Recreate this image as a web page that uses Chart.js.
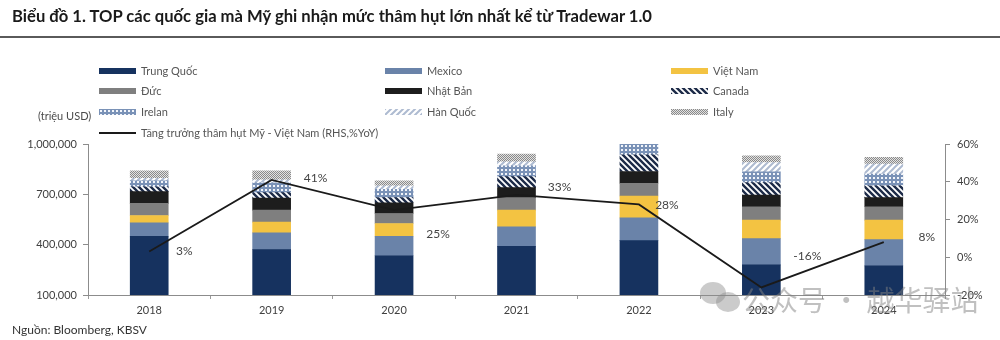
<!DOCTYPE html>
<html><head><meta charset="utf-8">
<script src="https://cdn.jsdelivr.net/npm/chart.js@4"></script>
<style>
html,body{margin:0;padding:0;background:#fff;width:1000px;height:340px;overflow:hidden;}
#wrap{position:relative;width:1000px;height:340px;font-family:Lato,'Open Sans',sans-serif;}
#c{position:absolute;left:0;top:0;}
#title{position:absolute;left:12px;top:6px;font-weight:700;font-size:17px;line-height:20px;color:#1a1a1a;white-space:nowrap;transform-origin:0 0;}
#rule{position:absolute;left:0;top:36px;width:1000px;height:2px;background:#5a5a5a;}
#unit{position:absolute;left:38px;top:109px;font-size:11px;color:#4a4a4a;}
#source{position:absolute;left:12px;top:322px;font-size:12px;color:#333;white-space:nowrap;}
.lg{position:absolute;height:14px;white-space:nowrap;font-size:11px;color:#555;line-height:14px;}
.sw{position:absolute;left:0;width:37px;height:6px;top:4px;}
.lt{position:absolute;left:42px;top:0;}
#wm{position:absolute;left:742px;top:279px;font-family:'Noto Sans CJK SC';font-size:28px;color:rgba(130,130,130,0.5);white-space:nowrap;pointer-events:none;}
.wc{position:absolute;border-radius:50%;background:rgba(140,140,140,0.45);}
</style>
</head><body>
<div id="wrap">
<canvas id="c" width="1000" height="340"></canvas>
<div id="title">Biểu đồ 1. TOP các quốc gia mà Mỹ ghi nhận mức thâm hụt lớn nhất kể từ Tradewar 1.0</div>
<div id="rule"></div>
<div id="unit">(triệu USD)</div>
<div id="legend"></div>
<div id="source">Nguồn: Bloomberg, KBSV</div>
<div class="wc" style="left:700px;top:282px;width:26px;height:22px;"></div>
<div class="wc" style="left:716px;top:292px;width:24px;height:20px;"></div>
<div id="wm">公众号 · 越华驿站</div>
</div>
<script>
// ---- data ----
const categories = ['2018','2019','2020','2021','2022','2023','2024'];
const trungQuoc = [450000,370000,334000,390000,424000,280000,274000];
const mexico    = [80000,100000,116000,116000,136000,156000,156000];
const vietNam   = [44000,64000,76000,100000,130000,110000,116000];
const duc       = [72000,72000,60000,74000,76000,80000,80000];
const nhatBan   = [70000,72000,64000,60000,70000,70000,54000];
const canada    = [28000,32000,30000,66000,100000,74000,70000];
const irelan    = [36000,58000,50000,64000,70000,64000,70000];
const hanQuoc   = [16000,18000,20000,24000,40000,56000,60000];
const italy     = [44000,54000,30000,46000,40000,40000,40000];
const yoyVN     = [3,41,25,33,28,-16,8];
const leftTicks = [100000,400000,700000,1000000];
const rightTicks = [-20,0,20,40,60];

// ---- patterns ----
function tile(w,h,draw){const c=document.createElement('canvas');c.width=w;c.height=h;const g=c.getContext('2d');draw(g,w,h);return c;}
const ctx0=document.getElementById('c').getContext('2d');
const canadaTile=tile(6,6,g=>{g.fillStyle='#fff';g.fillRect(0,0,6,6);g.strokeStyle='#1d2b48';g.lineWidth=2.4;g.beginPath();
  g.moveTo(-3,-3);g.lineTo(9,9);g.moveTo(-3,3);g.lineTo(3,9);g.moveTo(3,-3);g.lineTo(9,3);g.stroke();});
const hanTile=tile(6,6,g=>{g.fillStyle='#fff';g.fillRect(0,0,6,6);g.strokeStyle='#aebbd1';g.lineWidth=2;g.beginPath();
  g.moveTo(-3,9);g.lineTo(9,-3);g.moveTo(-3,3);g.lineTo(3,-3);g.moveTo(3,9);g.lineTo(9,3);g.stroke();});
const irelanTile=tile(4,4,g=>{g.fillStyle='#7a92b7';g.fillRect(0,0,4,4);g.fillStyle='#f2f5fa';g.fillRect(1,1,2,2);});
const italyTile=tile(2,2,g=>{g.fillStyle='#e2e2e2';g.fillRect(0,0,2,2);g.fillStyle='#8a8a8a';g.fillRect(0,0,1,1);g.fillRect(1,1,1,1);});
const pat=t=>ctx0.createPattern(t,'repeat');

const barSeries=[
  {label:'Trung Quốc',data:trungQuoc,fill:'#16325f'},
  {label:'Mexico',data:mexico,fill:'#6a83a9'},
  {label:'Việt Nam',data:vietNam,fill:'#f3c342'},
  {label:'Đức',data:duc,fill:'#7f7f7f'},
  {label:'Nhật Bản',data:nhatBan,fill:'#1d1d1d'},
  {label:'Canada',data:canada,tile:canadaTile},
  {label:'Irelan',data:irelan,tile:irelanTile},
  {label:'Hàn Quốc',data:hanQuoc,tile:hanTile},
  {label:'Italy',data:italy,tile:italyTile}
];
const lineLabel='Tăng trưởng thâm hụt Mỹ - Việt Nam (RHS,%YoY)';

const datasets=barSeries.map(s=>({type:'bar',label:s.label,data:s.data,backgroundColor:s.tile?pat(s.tile):s.fill,
  borderWidth:0,order:1,yAxisID:'y',barThickness:38}));
datasets.push({type:'line',label:lineLabel,data:yoyVN,yAxisID:'y1',borderColor:'#1a1a1a',borderWidth:1.8,
  pointRadius:0,tension:0,fill:false,order:0});

const labelOffsets=[[35,0],[44,-2],[44,24],[43,-8],[28,1],[46,-31],[43,-5]];
const lineIdx=datasets.length-1;
const labelPlugin={id:'yoyLabels',afterDatasetsDraw(chart){
  const meta=chart.getDatasetMeta(lineIdx);const c=chart.ctx;c.save();
  c.font='12px Lato';c.fillStyle='#444';c.textAlign='center';c.textBaseline='middle';
  meta.data.forEach((p,i)=>{c.fillText(yoyVN[i]+'%',p.x+labelOffsets[i][0],p.y+labelOffsets[i][1]);});
  c.restore();}};

const tickFont={family:'Lato',size:11};
const chart=new Chart(document.getElementById('c'),{
  data:{labels:categories,datasets},
  options:{responsive:false,animation:false,devicePixelRatio:1,
    layout:{padding:{top:144,bottom:18,left:0,right:0}},
    plugins:{legend:{display:false},tooltip:{enabled:false}},
    scales:{
      x:{stacked:true,offset:true,grid:{drawOnChartArea:false,tickLength:4,color:'#9a9a9a',offset:true},
         border:{color:'#8c8c8c',width:1},ticks:{font:tickFont,color:'#404040',padding:5},
         afterFit(s){s.height=27;}},
      y:{stacked:true,position:'left',min:100000,max:1000000,
         afterBuildTicks(s){s.ticks=leftTicks.map(v=>({value:v}));},
         ticks:{font:tickFont,color:'#404040',padding:6,callback:v=>v.toLocaleString('en-US')},
         grid:{drawOnChartArea:false,tickLength:5,color:'#8c8c8c'},border:{color:'#8c8c8c',width:1},
         afterFit(s){s.width=88;}},
      y1:{position:'right',min:-20,max:60,
         afterBuildTicks(s){s.ticks=rightTicks.map(v=>({value:v}));},
         ticks:{font:tickFont,color:'#404040',padding:7,callback:v=>v+'%'},
         grid:{drawOnChartArea:false,tickLength:5,color:'#8c8c8c'},border:{color:'#8c8c8c',width:1},
         afterFit(s){s.width=55;}}
    }},
  plugins:[labelPlugin]
});

// ---- legend ----
const cols=[99,385,671], rows=[64,84,105,126];
const lg=document.getElementById('legend');
function addItem(i,label,swStyle){
  const d=document.createElement('div');d.className='lg';
  d.style.left=cols[i%3]+'px';d.style.top=rows[Math.floor(i/3)]+'px';
  const sw=document.createElement('div');sw.className='sw';Object.assign(sw.style,swStyle);
  const t=document.createElement('div');t.className='lt';t.textContent=label;
  d.appendChild(sw);d.appendChild(t);lg.appendChild(d);}
barSeries.forEach((s,i)=>{
  addItem(i,s.label,s.tile?{backgroundImage:'url('+s.tile.toDataURL()+')'}:{background:s.fill});});
addItem(9,lineLabel,{height:1.6+'px',top:'6px',background:'#1a1a1a'});

// ---- title width fit ----
const ti=document.getElementById('title');
const w=ti.getBoundingClientRect().width;
ti.style.transform='scaleX('+(640/w)+')';
</script>
</body></html>
